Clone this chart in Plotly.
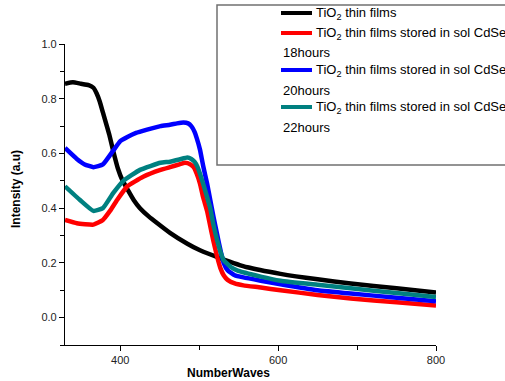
import plotly.graph_objects as go

# ---- data ----
black_x = [330, 340, 350, 360, 366, 370, 374, 378, 382, 386, 391, 397, 403, 409, 417, 425, 436, 447, 463, 485, 501, 527, 561, 603, 650, 692, 750, 800]
black_y = [0.855, 0.86, 0.855, 0.85, 0.84, 0.82, 0.79, 0.75, 0.71, 0.67, 0.61, 0.545, 0.50, 0.47, 0.43, 0.40, 0.37, 0.345, 0.31, 0.27, 0.246, 0.217, 0.184, 0.16, 0.14, 0.125, 0.107, 0.092]

red_x = [330, 345, 366, 378, 387, 396, 409, 429, 451, 463, 475, 482, 489, 493, 497, 501, 505, 510, 514, 518, 523, 527, 531, 536, 545, 556, 578, 603, 650, 692, 750, 800]
red_y = [0.357, 0.345, 0.34, 0.357, 0.39, 0.43, 0.48, 0.515, 0.54, 0.55, 0.56, 0.566, 0.56, 0.55, 0.525, 0.49, 0.44, 0.39, 0.335, 0.28, 0.22, 0.18, 0.155, 0.138, 0.125, 0.118, 0.11, 0.10, 0.083, 0.07, 0.056, 0.044]

blue_x = [330, 345, 355, 366, 378, 391, 400, 409, 420, 434, 451, 463, 472, 480, 486, 490, 494, 497, 501, 505, 510, 514, 518, 523, 527, 531, 536, 545, 556, 578, 603, 650, 692, 750, 800]
blue_y = [0.62, 0.58, 0.56, 0.55, 0.56, 0.61, 0.645, 0.66, 0.675, 0.687, 0.70, 0.705, 0.71, 0.713, 0.71, 0.70, 0.68, 0.655, 0.614, 0.555, 0.49, 0.43, 0.37, 0.30, 0.246, 0.20, 0.173, 0.155, 0.147, 0.135, 0.122, 0.10, 0.088, 0.073, 0.06]

teal_x = [330, 349, 366, 378, 391, 404, 425, 451, 463, 475, 485, 490, 494, 498, 505, 510, 514, 518, 523, 527, 531, 540, 548, 578, 603, 650, 692, 750, 800]
teal_y = [0.48, 0.43, 0.39, 0.40, 0.455, 0.50, 0.54, 0.566, 0.57, 0.578, 0.585, 0.58, 0.57, 0.55, 0.49, 0.44, 0.40, 0.34, 0.28, 0.24, 0.21, 0.185, 0.173, 0.15, 0.135, 0.12, 0.107, 0.09, 0.075]

series_names = [
    "TiO<sub>2</sub> thin films",
    "TiO<sub>2</sub> thin films stored in sol CdSe",
    "TiO<sub>2</sub> thin films stored in sol CdSe",
    "TiO<sub>2</sub> thin films stored in sol CdSe",
]
series_extra = ["", "18hours", "20hours", "22hours"]
series_colors = ["#000000", "#FF0000", "#0000FF", "#008080"]

x_ticks = [400, 600, 800]
y_ticks = [0.0, 0.2, 0.4, 0.6, 0.8, 1.0]

FONT = "Liberation Sans, Arial, sans-serif"

fig = go.Figure()
for xs, ys, c in zip([black_x, red_x, blue_x, teal_x], [black_y, red_y, blue_y, teal_y], series_colors):
    fig.add_trace(go.Scatter(x=xs, y=ys, mode="lines",
                             line=dict(color=c, width=4.5, shape="spline", smoothing=0.4),
                             showlegend=False, hoverinfo="skip"))

W, H = 505, 381
ml, mr, mt, mb = 65, 69, 44, 36
pw, ph = W - ml - mr, H - mt - mb

def px2paper(px, py):
    return (px - ml) / pw, (H - mb - py) / ph

shapes = []
annotations = []
# legend box
x0, y0 = px2paper(217, 165)
x1, y1 = px2paper(560, 5)
shapes.append(dict(type="rect", xref="paper", yref="paper", x0=x0, y0=y0, x1=x1, y1=y1,
                   line=dict(color="#707070", width=1.5), fillcolor="rgba(0,0,0,0)", layer="above"))
rows = [13, 33, 70, 107]
extra_rows = [None, 53, 90, 127]
for name, extra, c, ry, ey in zip(series_names, series_extra, series_colors, rows, extra_rows):
    lx0, ly = px2paper(281, ry)
    lx1, _ = px2paper(312, ry)
    shapes.append(dict(type="line", xref="paper", yref="paper", x0=lx0, x1=lx1, y0=ly, y1=ly,
                       line=dict(color=c, width=4)))
    tx, ty = px2paper(314, ry)
    annotations.append(dict(text=name, xref="paper", yref="paper", x=tx, y=ty, xanchor="left",
                            yanchor="middle", showarrow=False, font=dict(family=FONT, size=13, color="#000")))
    if extra:
        ex, eyp = px2paper(281, ey)
        annotations.append(dict(text=extra, xref="paper", yref="paper", x=ex, y=eyp, xanchor="left",
                                yanchor="middle", showarrow=False, font=dict(family=FONT, size=13, color="#000")))

# axis titles
tx, ty = px2paper(228, 373)
annotations.append(dict(text="<b>NumberWaves</b>", xref="paper", yref="paper", x=tx, y=ty,
                        xanchor="center", yanchor="middle", showarrow=False,
                        font=dict(family=FONT, size=12, color="#000")))
tx, ty = px2paper(16, 189)
annotations.append(dict(text="<b>Intensity (a.u)</b>", xref="paper", yref="paper", x=tx, y=ty,
                        xanchor="center", yanchor="middle", showarrow=False, textangle=-90,
                        font=dict(family=FONT, size=12, color="#000")))

fig.update_layout(
    width=W, height=H,
    margin=dict(l=ml, r=mr, t=mt, b=mb, pad=0),
    paper_bgcolor="white", plot_bgcolor="white",
    font=dict(family=FONT, size=11, color="#222"),
    shapes=shapes, annotations=annotations,
    xaxis=dict(range=[330, 800], tickvals=x_ticks, ticktext=[str(v) for v in x_ticks],
               showgrid=False, zeroline=False, showline=True, linecolor="#000", linewidth=1.2,
               ticks="outside", ticklen=5, tickcolor="#000", tickwidth=1,
               minor=dict(tickvals=[500, 700], ticks="outside", ticklen=4, tickcolor="#000"),
               tickfont=dict(family=FONT, size=11, color="#222")),
    yaxis=dict(range=[-0.1, 1.0], tickvals=y_ticks, ticktext=[f"{v:.1f}" for v in y_ticks],
               showgrid=False, zeroline=False, showline=True, linecolor="#000", linewidth=1.2,
               ticks="outside", ticklen=5, tickcolor="#000", tickwidth=1,
               minor=dict(tickvals=[-0.1, 0.1, 0.3, 0.5, 0.7, 0.9], ticks="outside", ticklen=4, tickcolor="#000"),
               tickfont=dict(family=FONT, size=11, color="#222")),
)

fig.write_html("out.html")
